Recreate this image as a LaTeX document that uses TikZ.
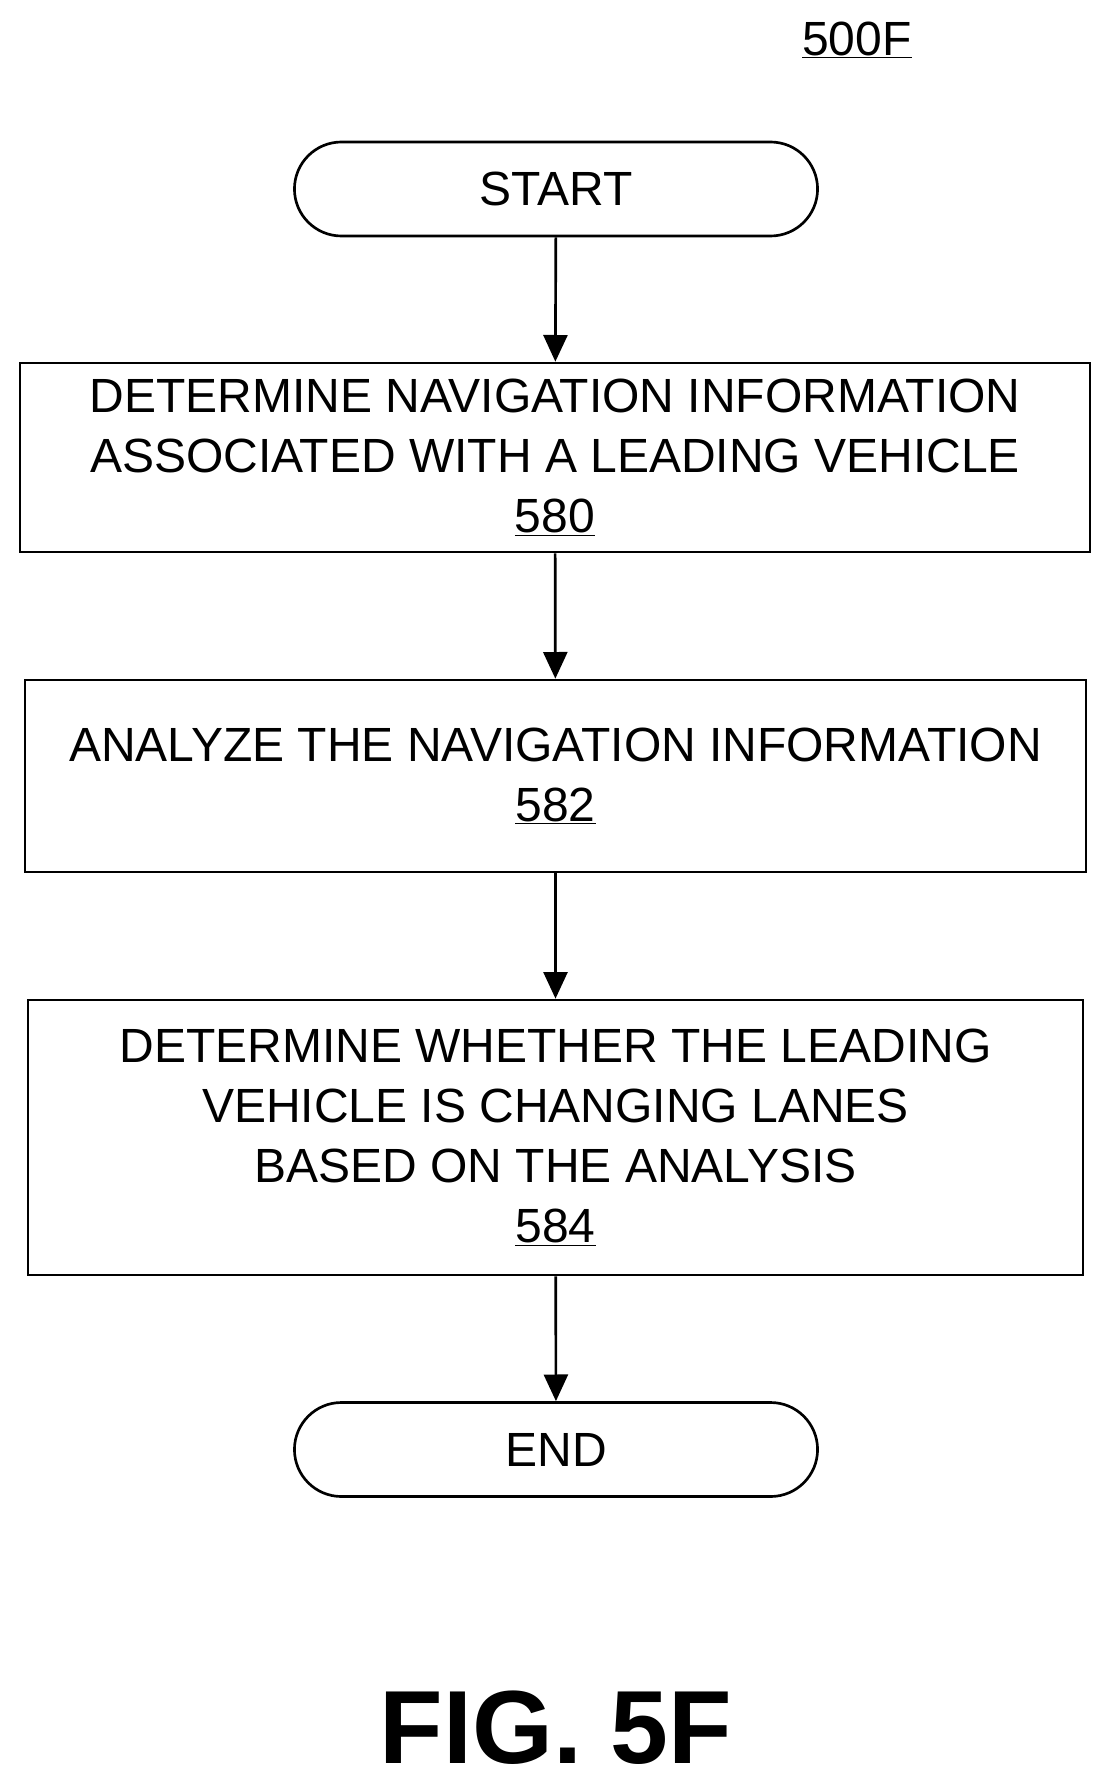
\documentclass[tikz,border=0pt]{standalone}
\usepackage{fontspec}
\setmainfont{Liberation Sans}
\usetikzlibrary{arrows.meta,shapes.misc}
\begin{document}
\begin{tikzpicture}[x=0.75pt,y=-0.75pt,
  txt/.style={font=\fontsize{36}{45}\selectfont,align=center},
  box/.style={draw,line width=2pt,txt},
  term/.style={draw,line width=2pt,rounded rectangle,txt,minimum width=532*0.75pt,minimum height=94*0.75pt},
  arr/.style={line width=2pt,-{Triangle[length=20pt,width=18pt]}}]
\useasboundingbox (0,0) rectangle (1110,1783);
\node[txt] (lab) at (857,40) {\underline{500F}};
\node[term] (s) at (556,189) {START};
\node[box,minimum width=1070*0.75pt,minimum height=189*0.75pt] (a) at (555,457.5) {DETERMINE NAVIGATION INFORMATION\\ASSOCIATED WITH A LEADING VEHICLE\\\underline{580}};
\node[box,minimum width=1061*0.75pt,minimum height=192*0.75pt] (b) at (555.5,776) {ANALYZE THE NAVIGATION INFORMATION\\\underline{582}};
\node[box,minimum width=1055*0.75pt,minimum height=275*0.75pt] (c) at (555.5,1137.5) {DETERMINE WHETHER THE LEADING\\VEHICLE IS CHANGING LANES\\BASED ON THE ANALYSIS\\\underline{584}};
\node[term] (e) at (556,1449.5) {END};
\node[font=\fontsize{78}{80}\selectfont\bfseries] (f) at (556,1728) {FIG. 5F};
\draw[arr] (s) -- (a);
\draw[arr] (a) -- (b);
\draw[arr] (b) -- (c);
\draw[arr] (c) -- (e);
\end{tikzpicture}
\end{document}
